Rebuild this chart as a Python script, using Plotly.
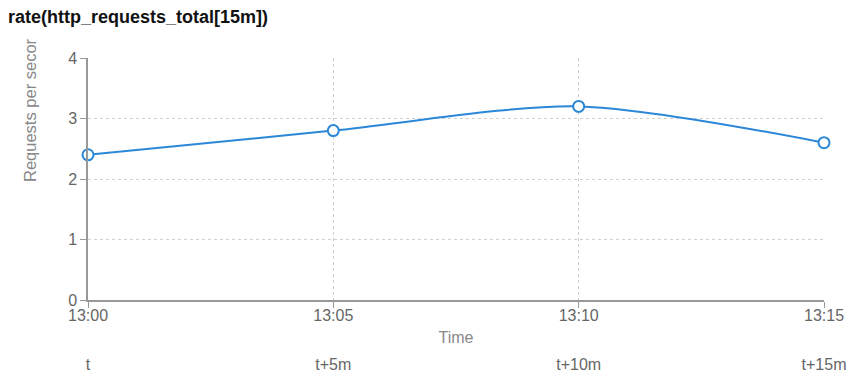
import plotly.graph_objects as go

times = ["2024-01-01 13:00", "2024-01-01 13:05", "2024-01-01 13:10", "2024-01-01 13:15"]
rates = [2.4, 2.8, 3.2, 2.6]
tick_labels = ["13:00", "13:05", "13:10", "13:15"]
relative_labels = ["t", "t+5m", "t+10m", "t+15m"]
y_ticks = [0, 1, 2, 3, 4]

FONT = "Liberation Sans, Arial, Helvetica, sans-serif"
BLUE = "#2b87d8"
GRAY = "#666666"
GRID = "#d0d0d0"

fig = go.Figure()
fig.add_trace(go.Scatter(
    x=times, y=rates, mode="lines+markers",
    line=dict(color=BLUE, width=2, shape="spline", smoothing=0.8),
    marker=dict(size=11, color="white", line=dict(color=BLUE, width=2)),
    cliponaxis=False, showlegend=False, hoverinfo="x+y",
))
# invisible trace to drive the secondary (relative) time axis
fig.add_trace(go.Scatter(x=times, y=rates, xaxis="x2", mode="markers",
                         marker=dict(opacity=0), showlegend=False, hoverinfo="skip"))

fig.update_layout(
    width=858, height=385,
    margin=dict(l=88, r=34, t=58, b=85, autoexpand=False),
    paper_bgcolor="white", plot_bgcolor="white",
    font=dict(family=FONT, color=GRAY, size=16),
    title=dict(text="<b>rate(http_requests_total[15m])</b>", x=0, xref="container", xanchor="left",
               y=1, yref="container", yanchor="top", pad=dict(l=8, t=10),
               font=dict(family=FONT, size=18, color="#111111")),
    xaxis=dict(
        type="date", range=[times[0], times[-1]],
        tickvals=times, ticktext=tick_labels,
        showgrid=True, gridcolor=GRID, griddash="3px,3px", gridwidth=1,
        showline=True, linecolor="#999999", linewidth=1.5,
        ticks="outside", ticklen=6, tickcolor="#999999", ticklabelstandoff=-6,
        tickfont=dict(size=16, color=GRAY), automargin=False,
        title=dict(text="Time", font=dict(size=16, color="#888888"), standoff=9),
        zeroline=False,
    ),
    xaxis2=dict(
        type="date", range=[times[0], times[-1]], overlaying="x", side="bottom",
        anchor="free", position=0, tickvals=times, ticktext=relative_labels,
        showgrid=False, showline=False, ticks="", ticklabelstandoff=53,
        tickfont=dict(size=16, color=GRAY), zeroline=False, automargin=False,
    ),
    yaxis=dict(
        range=[0, 4], tickvals=y_ticks,
        showgrid=True, gridcolor=GRID, griddash="3px,3px", gridwidth=1,
        showline=True, linecolor="#999999", linewidth=1.5,
        ticks="outside", ticklen=6, tickcolor="#999999",
        tickfont=dict(size=16, color=GRAY), zeroline=False, automargin=False,
    ),
    annotations=[dict(
        text="Requests per secor", textangle=-90, xref="paper", yref="paper",
        x=(30 - 88) / 736, y=(300 - 110) / 242, xanchor="center", yanchor="middle",
        showarrow=False, font=dict(size=16.5, color="#888888", family=FONT),
    )],
)

fig.write_html("out.html", config={"displayModeBar": False},
               post_script="document.body.style.margin='0';")
